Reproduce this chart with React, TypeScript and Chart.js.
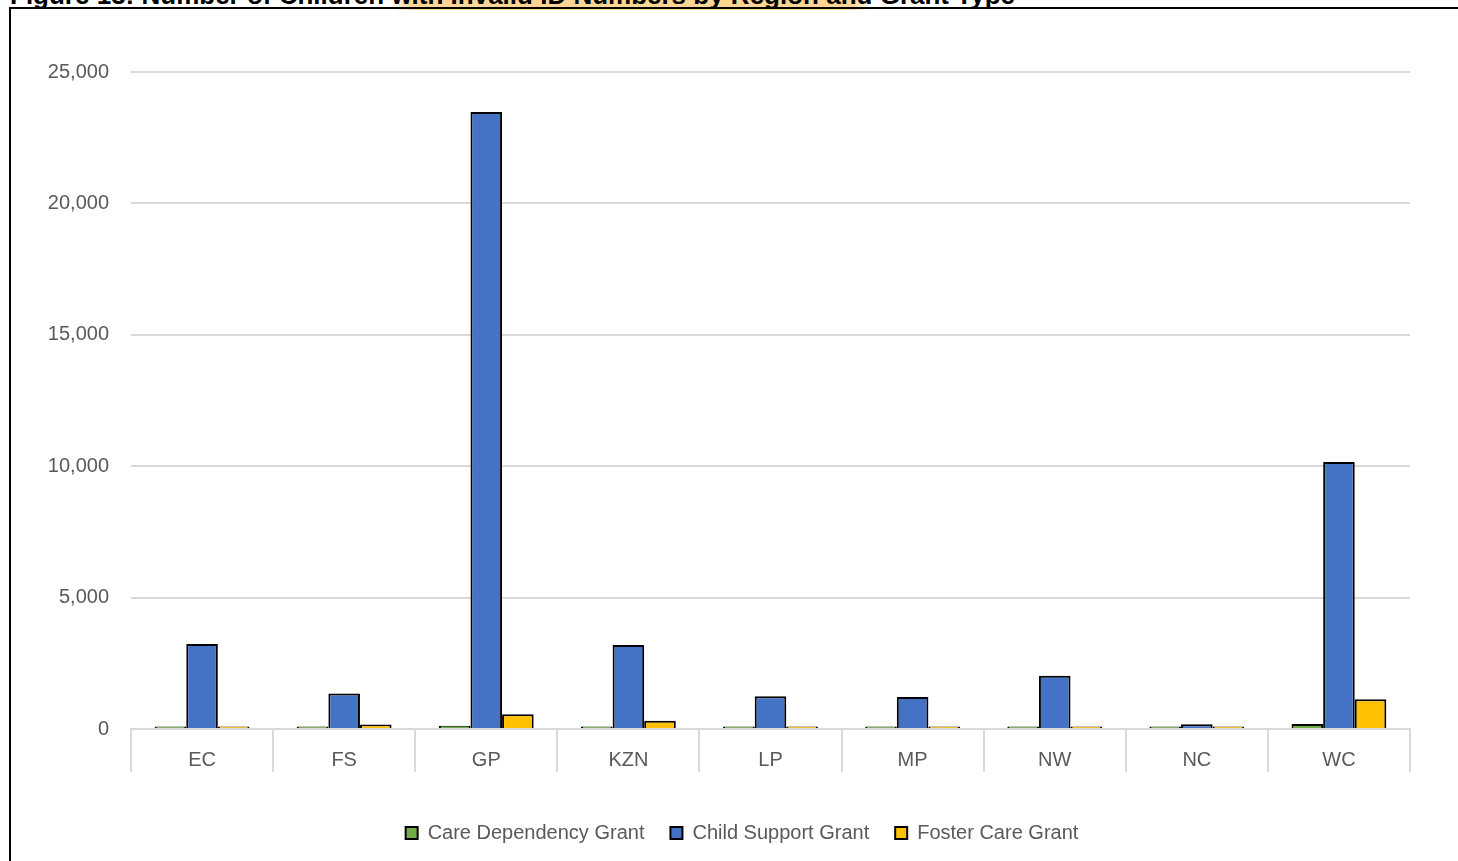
import React, { useEffect, useRef } from "react";
import { Chart, registerables } from "chart.js";

Chart.register(...registerables);

const regions = ["EC", "FS", "GP", "KZN", "LP", "MP", "NW", "NC", "WC"];
const careDependency = [40, 10, 125, 60, 10, 10, 10, 5, 190];
const childSupport = [3230, 1350, 23480, 3200, 1245, 1220, 2030, 180, 10160];
const fosterCare = [40, 170, 560, 315, 20, 20, 20, 15, 1130];
const seriesNames = ["Care Dependency Grant", "Child Support Grant", "Foster Care Grant"];
const seriesColors = ["#70AD47", "#4472C4", "#FFC000"];
const yTicks = [0, 5000, 10000, 15000, 20000, 25000];
const titleText = "Figure 13: Number of Children ";
const titleHighlight = "with Invalid ID Numbers by Region and";
const titleEnd = " Grant Type";

const FONT = '"Liberation Sans", Arial, sans-serif';

export default function App() {
  const ref = useRef<HTMLCanvasElement | null>(null);
  useEffect(() => {
    if (!ref.current) return;
    const values = [careDependency, childSupport, fosterCare];
    const chart = new Chart(ref.current, {
      type: "bar",
      data: {
        labels: regions,
        datasets: seriesNames.map((name, i) => ({
          label: name,
          data: values[i],
          backgroundColor: seriesColors[i],
          borderColor: "#000000",
          borderWidth: 2,
          minBarLength: 2.5,
          categoryPercentage: 0.667,
          barPercentage: 1,
          yAxisID: "y",
        })),
      },
      options: {
        responsive: false,
        animation: false,
        layout: { padding: { left: 26, right: 0, top: 72, bottom: 8 } },
        scales: {
          x: {
            offset: true,
            grid: {
              display: true,
              offset: true,
              drawOnChartArea: false,
              drawTicks: true,
              tickLength: 43,
              color: "#D9D9D9",
              lineWidth: 2,
            },
            border: { display: true, color: "#D9D9D9", width: 2 },
            ticks: {
              padding: -24,
              color: "#595959",
              font: { family: FONT, size: 20 },
              maxRotation: 0,
            },
            afterFit: (s: any) => {
              s.height = 68;
            },
          },
          y: {
            position: "left",
            min: 0,
            max: 25000,
            afterBuildTicks: (s: any) => {
              s.ticks = yTicks.map((v) => ({ value: v }));
            },
            grid: { color: "#D9D9D9", lineWidth: 2, drawTicks: false },
            border: { display: false },
            ticks: {
              padding: 22,
              color: "#595959",
              font: { family: FONT, size: 20 },
              callback: (v: any) => Number(v).toLocaleString("en-US"),
            },
            afterFit: (s: any) => {
              s.width = 105;
            },
          },
          spacer: {
            type: "linear",
            position: "right",
            display: true,
            min: 0,
            max: 1,
            grid: { display: false, drawOnChartArea: false },
            border: { display: false },
            ticks: { display: false },
            afterFit: (s: any) => {
              s.width = 48;
            },
          },
        },
        plugins: {
          legend: {
            position: "bottom",
            labels: {
              boxWidth: 12,
              boxHeight: 12,
              padding: 26,
              color: "#595959",
              font: { family: FONT, size: 20 },
            },
          },
          tooltip: { enabled: false },
          title: { display: false },
        },
      },
    });
    return () => chart.destroy();
  }, []);

  return (
    <div
      style={{
        position: "fixed",
        left: 0,
        top: 0,
        width: 1458,
        height: 861,
        overflow: "hidden",
        background: "#ffffff",
      }}
    >
      <div
        style={{
          position: "absolute",
          left: 10,
          top: -20,
          whiteSpace: "nowrap",
          font: 'bold 26px "Liberation Sans", Arial, sans-serif',
          color: "#000",
          lineHeight: "30px",
        }}
      >
        {titleText}
        <span
          style={{
            background:
              "linear-gradient(90deg, rgba(253,214,150,0) 0%, #FDD696 4%, #FDD696 96%, rgba(253,214,150,0) 100%)",
          }}
        >
          {titleHighlight}
        </span>
        {titleEnd}
      </div>
      <canvas
        ref={ref}
        width={1458}
        height={861}
        style={{ position: "absolute", left: 0, top: 0, width: 1458, height: 861 }}
      />
      <div
        style={{
          position: "absolute",
          left: 9,
          top: 7,
          width: 1500,
          height: 900,
          borderLeft: "2px solid #000",
          borderTop: "2px solid #000",
          pointerEvents: "none",
        }}
      />
    </div>
  );
}
